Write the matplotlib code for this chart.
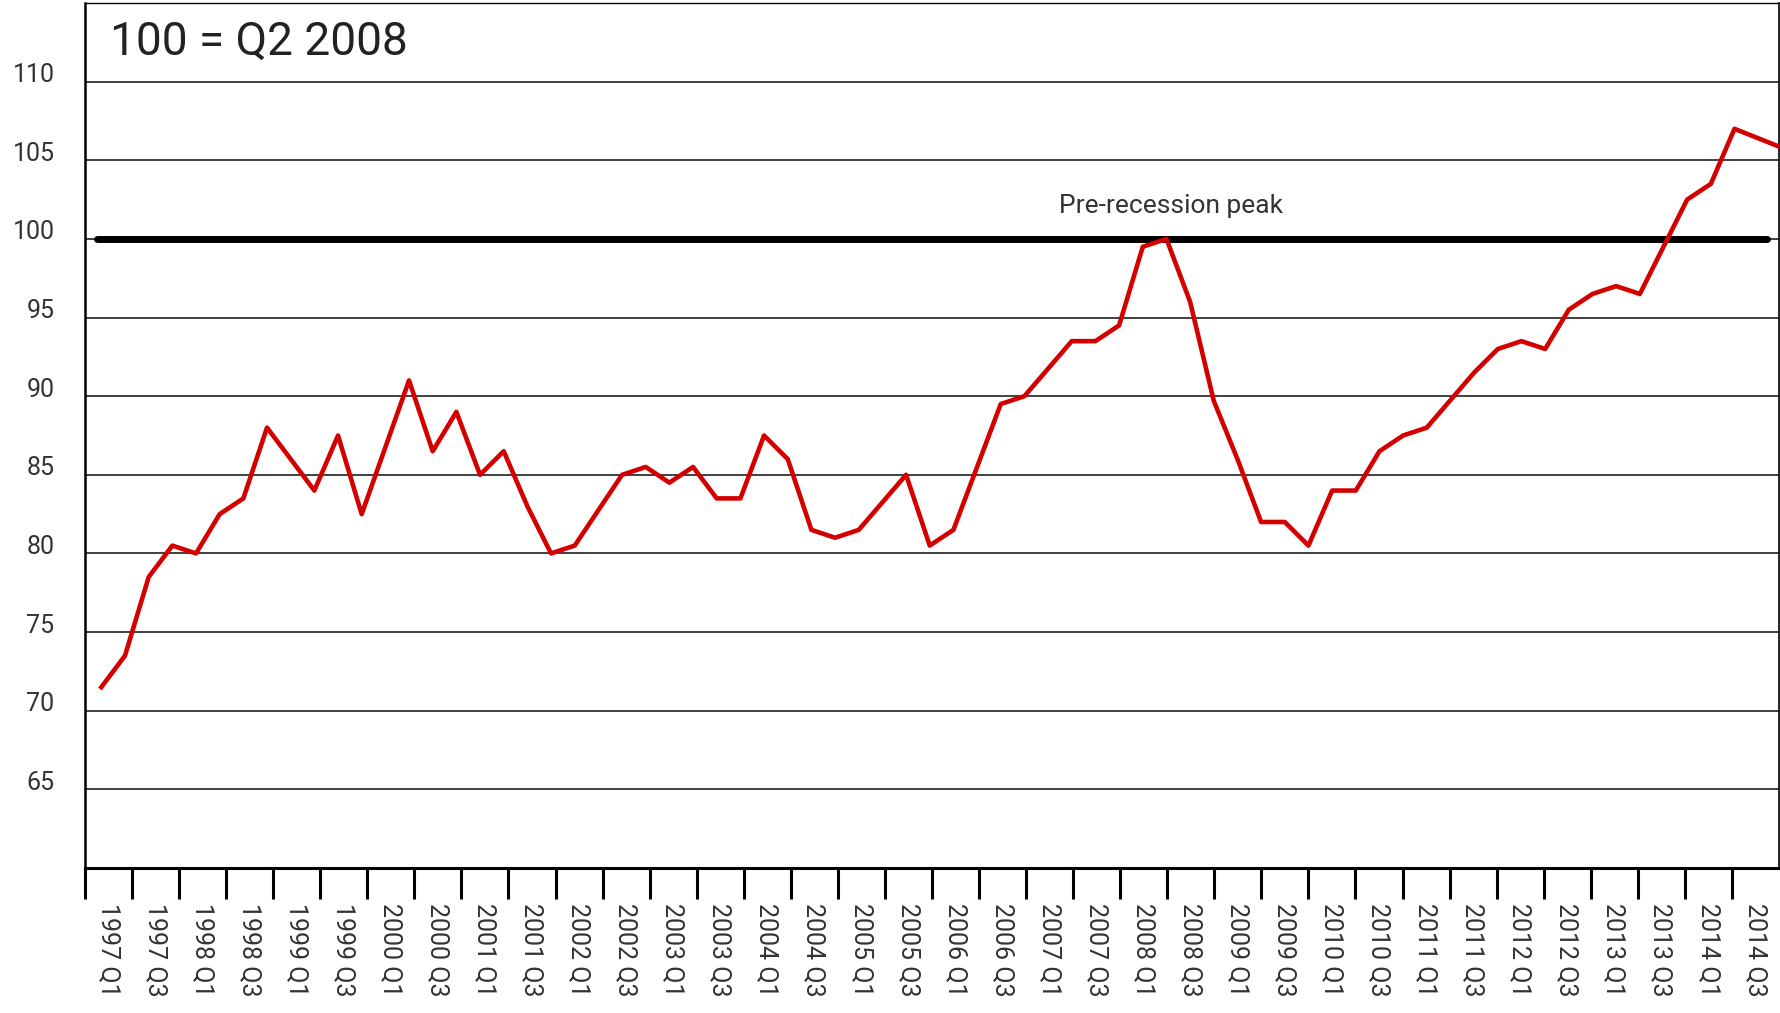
import matplotlib
matplotlib.use('Agg')
import matplotlib.pyplot as plt
from matplotlib.transforms import ScaledTranslation
import numpy as np

plt.rcParams['font.family'] = ['Roboto', 'DejaVu Sans']

# quarterly index, 100 = Q2 2008
quarters = [f"{yr} Q{q}" for yr in range(1997, 2015) for q in range(1, 5)]
tick_labels = quarters[::2]
index_values = [71.5, 73.5, 78.5, 80.5, 80, 82.5, 83.5, 88, 86, 84,
                87.5, 82.5, 86.75, 91, 86.5, 89, 85, 86.5, 83, 80,
                80.5, 82.75, 85, 85.5, 84.5, 85.5, 83.5, 83.5, 87.5, 86,
                81.5, 81, 81.5, 83.25, 85, 80.5, 81.5, 85.5, 89.5, 90,
                91.75, 93.5, 93.5, 94.5, 99.5, 100, 96, 89.7, 86, 82,
                82, 80.5, 84, 84, 86.5, 87.5, 88, 89.75, 91.5, 93,
                93.5, 93, 95.5, 96.5, 97, 96.5, 99.5, 102.5, 103.5, 107,
                106.4, 105.8]
peak_value = 100
yticks = [65, 70, 75, 80, 85, 90, 95, 100, 105, 110]

n = len(quarters)
W, H = 1781, 1013
fig = plt.figure(figsize=(W / 100, H / 100), dpi=100)
ax = fig.add_axes([85 / W, 1 - 868 / H, (1779 - 85) / W, (868 - 3) / H])

ax.set_xlim(0, n)
ax.set_ylim(60, 115)
ax.set_yticks(yticks)
ax.yaxis.grid(True, color='#404040', linewidth=1.4)
ax.set_axisbelow(True)
ax.tick_params(axis='y', length=0, pad=22, labelsize=18, labelcolor='#333333')
# y labels sit a little above their gridlines
lift = ScaledTranslation(0, 0.09, fig.dpi_scale_trans)
for lab in ax.get_yticklabels():
    lab.set_transform(lab.get_transform() + lift)

ax.set_xticks(np.arange(0, n, 2))
ax.set_xticklabels([])
ax.set_xticks(np.arange(1, n, 2), minor=True)
ax.set_xticklabels(tick_labels, minor=True)
ax.tick_params(axis='x', which='major', length=22, width=2.2, color='black')
ax.tick_params(axis='x', which='minor', length=0, pad=25, labelsize=18,
               labelcolor='#333333', labelrotation=-90)

for side, lw in [('left', 1.8), ('bottom', 2.2), ('top', 1.0), ('right', 1.2)]:
    ax.spines[side].set_linewidth(lw)
    ax.spines[side].set_color('black')

# pre-recession peak line on the category axis
ax.plot(np.arange(n) + 0.5, [peak_value] * n, color='black', lw=5,
        solid_capstyle='round')

# red series sits on its own (secondary) x axis
ax2 = ax.twiny()
ax2.set_xlim(-0.69, 70.88)
ax2.plot(np.arange(n), index_values, color='#d40000', lw=3.3)
ax2.axis('off')
ax2.text(45.2, 102.1, 'Pre-recession peak', ha='center', va='center',
         fontsize=19, color='#333333')

fig.text(110 / W, 1 - 20 / H, '100 = Q2 2008', fontsize=33, va='top',
         color='#222222')

fig.savefig('out.png', dpi=100)
